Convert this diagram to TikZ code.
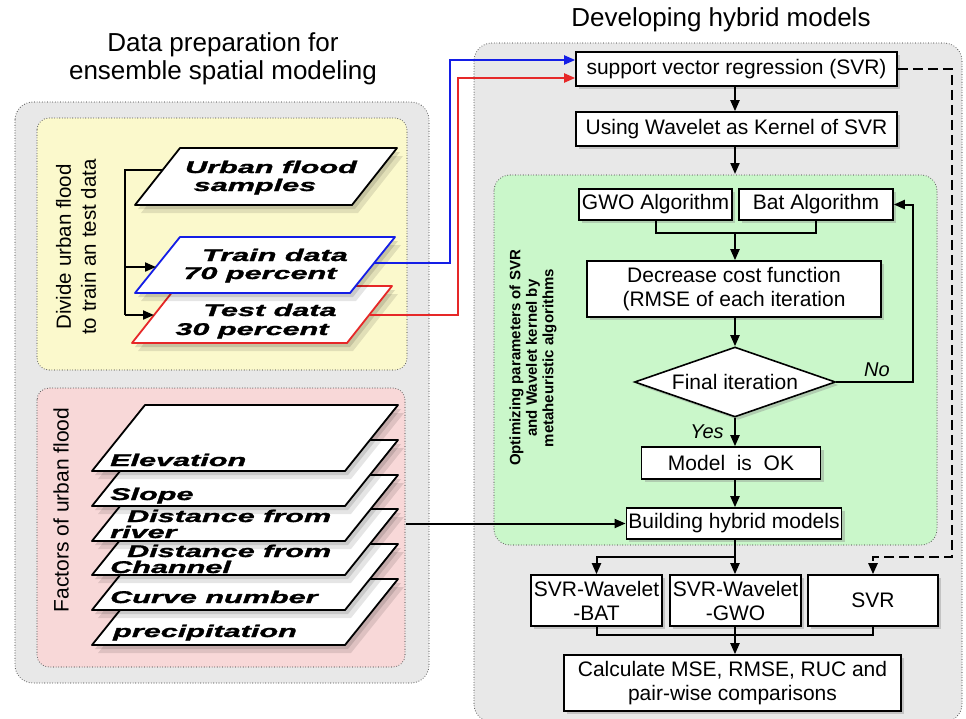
\documentclass[tikz,border=0pt]{standalone}
\usepackage{graphicx}
\usepackage{fontspec}
\setmainfont{Liberation Sans}
\newfontfamily\sheetfont[FakeBold=1.2]{Liberation Sans}
\usetikzlibrary{arrows.meta,shapes.geometric,shadows,calc}
\definecolor{outergray}{RGB}{232,232,232}
\definecolor{yelbg}{RGB}{251,249,204}
\definecolor{pinkbg}{RGB}{248,216,216}
\definecolor{greenbg}{RGB}{202,247,202}
\definecolor{dotc}{RGB}{90,90,90}
\definecolor{bluel}{RGB}{20,30,230}
\definecolor{redl}{RGB}{230,40,40}
\newcommand\wtxt[1]{\scalebox{1.8}[1]{\sheetfont\fontsize{17}{18}\selectfont\bfseries\itshape #1}}
\newcommand\drawsheet[6]{%
 \fill[black,opacity=0.12,shift={(3,4)}] (#1,#2) -- ++(#3,0) -- ++(#5,-#4) -- ++(-#3,0) -- cycle;
 \fill[black,opacity=0.10,shift={(6,8)}] (#1,#2) -- ++(#3,0) -- ++(#5,-#4) -- ++(-#3,0) -- cycle;
 \draw[sheet,draw=#6] (#1,#2) -- ++(#3,0) -- ++(#5,-#4) -- ++(-#3,0) -- cycle;
}
\tikzset{
 panel/.style={draw=dotc, line width=1.1pt, dash pattern=on 0pt off 2.6pt, line cap=round, rounded corners=18pt},
 box/.style={draw, line width=1.6pt, fill=white, inner sep=2pt, font=\fontsize{21}{24}\selectfont, align=center,
   drop shadow={opacity=0.35, shadow xshift=3pt, shadow yshift=-3pt}},
 conn/.style={line width=2pt, -{Triangle[length=11pt,width=9pt]}},
 plain/.style={line width=2pt},
 sheet/.style={line width=1.8pt, fill=white, line join=round},
 st/.style={inner sep=0pt},
 lbl/.style={font=\fontsize{20}{22}\selectfont\itshape, inner sep=0pt},
}
\begin{document}
\begin{tikzpicture}[x=1pt,y=-1pt]
\useasboundingbox (0,0) rectangle (966,718);
% panels
\draw[panel, fill=outergray] (15,102) rectangle (429,683);
\draw[panel, fill=yelbg, rounded corners=12pt] (37,118) rectangle (407,370);
\draw[panel, fill=pinkbg, rounded corners=12pt] (37,388) rectangle (405,667);
\draw[panel, fill=outergray] (474,43) rectangle (962,722);
\draw[panel, fill=greenbg, rounded corners=16pt] (494,175) rectangle (937,545);
% titles
\node[font=\fontsize{26}{28}\selectfont, align=center] (t1) at (223,59) {Data preparation for\\ensemble spatial modeling};
\node[font=\fontsize{26}{28}\selectfont] (t2) at (721,20) {Developing hybrid models};
% side labels
\node[rotate=90, font=\fontsize{20.5}{25}\selectfont, align=center] (divl) at (76,247) {Divide urban flood\\to train an test data};
\node[rotate=90, font=\fontsize{21}{25}\selectfont] (facl) at (61,510) {Factors of urban flood};
\node[rotate=90, font=\fontsize{15}{16.5}\selectfont\bfseries, align=center] (optl) at (533,358) {Optimizing parameters of SVR\\and Wavelet kernel by\\metaheuristic algorithms};
% yellow sheets
\drawsheet{135}{205}{217}{57}{45}{black}
\node[st, anchor=base] (uf1) at (271,173) {\wtxt{Urban flood}};
\node[st, anchor=base] (uf2) at (255,191) {\wtxt{samples}};
\drawsheet{132}{343}{215}{57}{45}{redl}
\node[st, anchor=base] (te1) at (270,316) {\wtxt{Test data}};
\node[st, anchor=base] (te2) at (252,335) {\wtxt{30 percent}};
\drawsheet{135}{293}{215}{56}{45}{bluel}
\node[st, anchor=base] (tr1) at (275,261) {\wtxt{Train data}};
\node[st, anchor=base] (tr2) at (260,279) {\wtxt{70 percent}};
% pink sheets
\drawsheet{92}{645}{253}{66}{53}{black}
\node[st, anchor=base west] (f6) at (113,637) {\wtxt{precipitation}};
\drawsheet{92}{610}{253}{66}{53}{black}
\node[st, anchor=base west] (f5) at (110,603) {\wtxt{Curve number}};
\drawsheet{92}{575}{253}{66}{53}{black}
\node[st, anchor=base west] (f4a) at (127,557) {\wtxt{Distance from}};
\node[st, anchor=base west] (f4b) at (110,573) {\wtxt{Channel}};
\drawsheet{92}{541}{253}{66}{53}{black}
\node[st, anchor=base west] (f3a) at (127,522) {\wtxt{Distance from}};
\node[st, anchor=base west] (f3b) at (110,538) {\wtxt{river}};
\drawsheet{92}{506}{253}{66}{53}{black}
\node[st, anchor=base west] (f2) at (110,500) {\wtxt{Slope}};
\drawsheet{92}{471}{253}{66}{53}{black}
\node[st, anchor=base west] (f1) at (110,466) {\wtxt{Elevation}};
% right nodes
\node[box, minimum width=321, minimum height=34] (svr) at (736.5,69) {support vector regression (SVR)};
\node[box, minimum width=321, minimum height=34] (wav) at (736.5,129) {Using Wavelet as Kernel of SVR};
\node[box, minimum width=153, minimum height=31] (gwo) at (655.5,204.5) {GWO Algorithm};
\node[box, minimum width=154, minimum height=31] (bat) at (816,204.5) {Bat Algorithm};
\node[box, minimum width=294, minimum height=56] (dec) at (734,289) {Decrease cost function\\(RMSE of each iteration};
\node[box, diamond, aspect=2.87, inner sep=0pt, minimum width=201, minimum height=70] (dia) at (735,382) {Final iteration};
\node[box, minimum width=179, minimum height=32] (model) at (731,463) {Model~ is~ OK};
\node[box, minimum width=210, minimum height=31] (build) at (734,523.5) {Building hybrid models};
\node[box, minimum width=131, minimum height=51] (bat2) at (596.5,600.5) {SVR-Wavelet\\-BAT};
\node[box, minimum width=131, minimum height=51] (gwo2) at (735.5,600.5) {SVR-Wavelet\\-GWO};
\node[box, minimum width=130, minimum height=51] (svr2) at (873,600.5) {SVR};
\node[box, minimum width=337, minimum height=56] (calc) at (732.5,683) {Calculate MSE, RMSE, RUC and\\pair-wise comparisons};
\node[lbl] (no) at (877,370) {No};
\node[lbl] (yes) at (707,432) {Yes};
% helper coordinates
\coordinate (ax) at (735,0);
\coordinate (grtop) at (735,174);
\coordinate (jn1) at (735,233);
\coordinate (loop) at (913,382);
\coordinate (br) at (735,557);
\coordinate (dR) at (952,0);
\coordinate (bj) at (0,634.5);
\coordinate (facout) at (406,525);
\coordinate (bx) at (450,0);
\coordinate (rx) at (458,0);
\coordinate (bout) at (374,263);
\coordinate (rout) at (370,315);
\coordinate (svrin1) at ([yshift=9pt]svr.west);
\coordinate (svrin2) at ([yshift=-9pt]svr.west);
\coordinate (bk) at (125,0);
\coordinate (ufL) at (163,170);
\coordinate (trL) at (156,267);
\coordinate (teL) at (154,315);
% connectors
\draw[conn] (svr.south -| ax) -- (wav.north -| ax);
\draw[conn] (wav.south -| ax) -- (grtop);
\draw[plain] (gwo.south) -- (gwo.south |- jn1) -| (bat.south);
\draw[conn] (jn1) -- (dec.north -| ax);
\draw[conn] (dec.south -| ax) -- (dia.north);
\draw[conn] (dia.east) -- (loop) |- (bat.east);
\draw[conn] (dia.south) -- (model.north -| dia.south);
\draw[conn] (model.south -| ax) -- (build.north -| ax);
\draw[conn] (facout |- build.west) -- (build.west);
\draw[plain] (build.south -| ax) -- (br);
\draw[conn] (br) -| (bat2.north);
\draw[conn] (br) -- (gwo2.north -| ax);
\draw[conn, line width=2.4pt, dash pattern=on 10pt off 5pt] (svr.east) -- (svr.east -| dR) -- (dR |- br) -| (svr2.north);
\draw[plain] (bat2.south) -- (bat2.south |- bj) -| (svr2.south);
\draw[conn] (gwo2.south -| ax) -- (calc.north -| ax);
\draw[conn, draw=bluel] (bout) -- (bout -| bx) |- (svrin1);
\draw[conn, draw=redl] (rout) -- (rout -| rx) |- (svrin2);
\draw[plain] (ufL) -- (ufL -| bk) -- (bk |- teL);
\draw[conn] (bk |- trL) -- (trL);
\draw[conn] (bk |- teL) -- (teL);
\end{tikzpicture}
\end{document}
